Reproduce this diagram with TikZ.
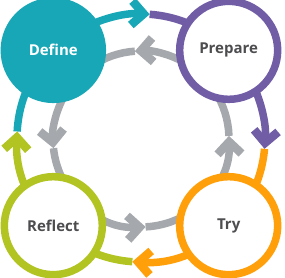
\documentclass[tikz,border=0pt]{standalone}
\usepackage{fontspec}
\setmainfont{Open Sans}
\usetikzlibrary{calc}
\usetikzlibrary{arrows.meta}

\begin{document}
\begin{tikzpicture}[x=1pt, y=1pt, >={Straight Barb[length=12pt,width=24pt,line width=8.5pt]}]

% ---------------------------------------------------------------------------
% Color aliases
% ---------------------------------------------------------------------------
\definecolor{defineColor}{RGB}{23,167,182}
\definecolor{prepareColor}{RGB}{113,93,166}
\definecolor{tryColor}{RGB}{255,160,10}
\definecolor{reflectColor}{RGB}{178,196,34}
\definecolor{backColor}{RGB}{165,168,172}
\definecolor{labelColor}{RGB}{77,77,80}

\tikzset{
  ring/.style={line width=7.5pt},
  stage/.style={circle, minimum size=98pt, inner sep=0pt, line width=7.5pt,
    fill=white, text=labelColor, font=\bfseries\fontsize{15}{17}\selectfont},
}

\useasboundingbox (-141,-140) rectangle (144,138);

% ---------------------------------------------------------------------------
% Arrow tip points on the two rings
% ---------------------------------------------------------------------------
\coordinate (topTip)   at (86:124);
\coordinate (rightTip) at (-5:124);
\coordinate (botTip)   at (-94:124);
\coordinate (leftTip)  at (177:124);

\coordinate (gTop)   at ($(0,-1)+(94:88)$);
\coordinate (gLeft)  at ($(0,-1)+(186:88)$);
\coordinate (gBot)   at ($(0,-1)+(273:88)$);
\coordinate (gRight) at ($(0,-1)+(2:88)$);

% ===========================================================================
%  INNER RING  -- grey, counter-clockwise
% ===========================================================================
\draw[backColor, ring, ->] (gRight) arc[start angle=2, end angle=94, radius=88];
\draw[backColor, ring, ->] (gTop) arc[start angle=94, end angle=186, radius=88];
\draw[backColor, ring, ->] (gLeft) arc[start angle=186, end angle=273, radius=88];
\draw[backColor, ring, ->] (gBot) arc[start angle=273, end angle=362, radius=88];

% ===========================================================================
%  OUTER RING  -- one colour per stage, clockwise
% ===========================================================================
\draw[defineColor, ring, ->] (leftTip) arc[start angle=177, end angle=86, radius=124];
\draw[prepareColor, ring, ->] (topTip) arc[start angle=86, end angle=-5, radius=124];
\draw[tryColor, ring, ->] (rightTip) arc[start angle=-5, end angle=-94, radius=124];
\draw[reflectColor, ring, ->] (botTip) arc[start angle=-94, end angle=-183, radius=124];

% ---------------------------------------------------------------------------
% Stages
% ---------------------------------------------------------------------------
\node[stage, draw=defineColor, fill=defineColor, text=white] (define) at (135:124) {Define};
\node[stage, draw=prepareColor] (prepare) at (45:124) {Prepare};
\node[stage, draw=tryColor] (try) at (-45:124) {Try};
\node[stage, draw=reflectColor] (reflect) at (-135:124) {Reflect};

\end{tikzpicture}
\end{document}
